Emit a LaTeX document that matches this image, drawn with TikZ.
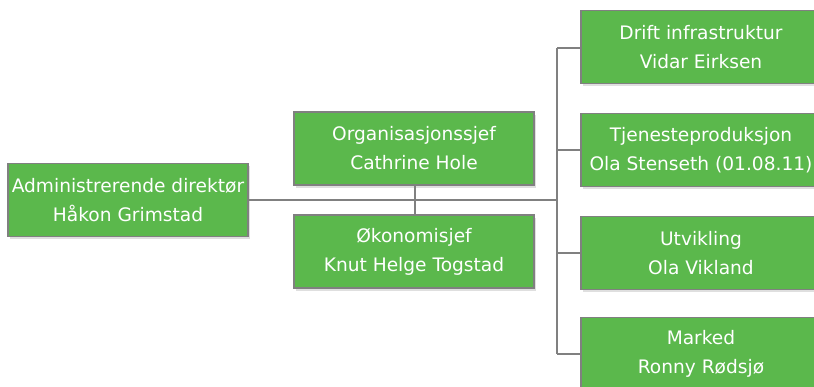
\documentclass[tikz,border=0pt]{standalone}
\usepackage{fontspec}
\setmainfont{DejaVu Sans}
\usetikzlibrary{shadows}
\definecolor{boxgreen}{HTML}{5BB84C}
\definecolor{linegray}{HTML}{808080}
\begin{document}
\begin{tikzpicture}[x=1pt,y=-1pt,
  orgbox/.style={draw=linegray, line width=1.2pt, fill=boxgreen, minimum width=240pt, minimum height=73pt,
    inner sep=0pt, text=white, align=center, font=\fontsize{18.6}{29}\selectfont,
    drop shadow={opacity=0.25, shadow xshift=2pt, shadow yshift=-3pt}},
  conn/.style={draw=linegray, line width=1.6pt}]
\useasboundingbox (0,0) rectangle (814,387);
\clip (0,0) rectangle (814,387);
% coordinates
\coordinate (bustop) at (557,48);
\coordinate (busbot) at (557,354);
\coordinate (bus1) at (557,48);
\coordinate (bus2) at (557,150);
\coordinate (bus3) at (557,253);
\coordinate (bus4) at (557,354);
\coordinate (busmid) at (557,200);
% connectors
\draw[conn] (bustop) -- (busbot);
\draw[conn] (128,200) -- (busmid);
\draw[conn] (415,150) -- (415,250);
\draw[conn] (bus1) -- (581,48);
\draw[conn] (bus2) -- (581,150);
\draw[conn] (bus3) -- (581,253);
\draw[conn] (bus4) -- (581,354);
% boxes
\node[orgbox] (adm) at (128,200) {Administrerende direktør\\Håkon Grimstad};
\node[orgbox] (org) at (414,148.5) {Organisasjonssjef\\Cathrine Hole};
\node[orgbox] (oko) at (414,251.5) {Økonomisjef\\Knut Helge Togstad};
\node[orgbox] (drift) at (701,47) {Drift infrastruktur\\Vidar Eirksen};
\node[orgbox] (tjen) at (701,150) {Tjenesteproduksjon\\Ola Stenseth (01.08.11)};
\node[orgbox] (utv) at (701,253) {Utvikling\\Ola Vikland};
\node[orgbox] (mark) at (701,354) {Marked\\Ronny Rødsjø};
\end{tikzpicture}
\end{document}
